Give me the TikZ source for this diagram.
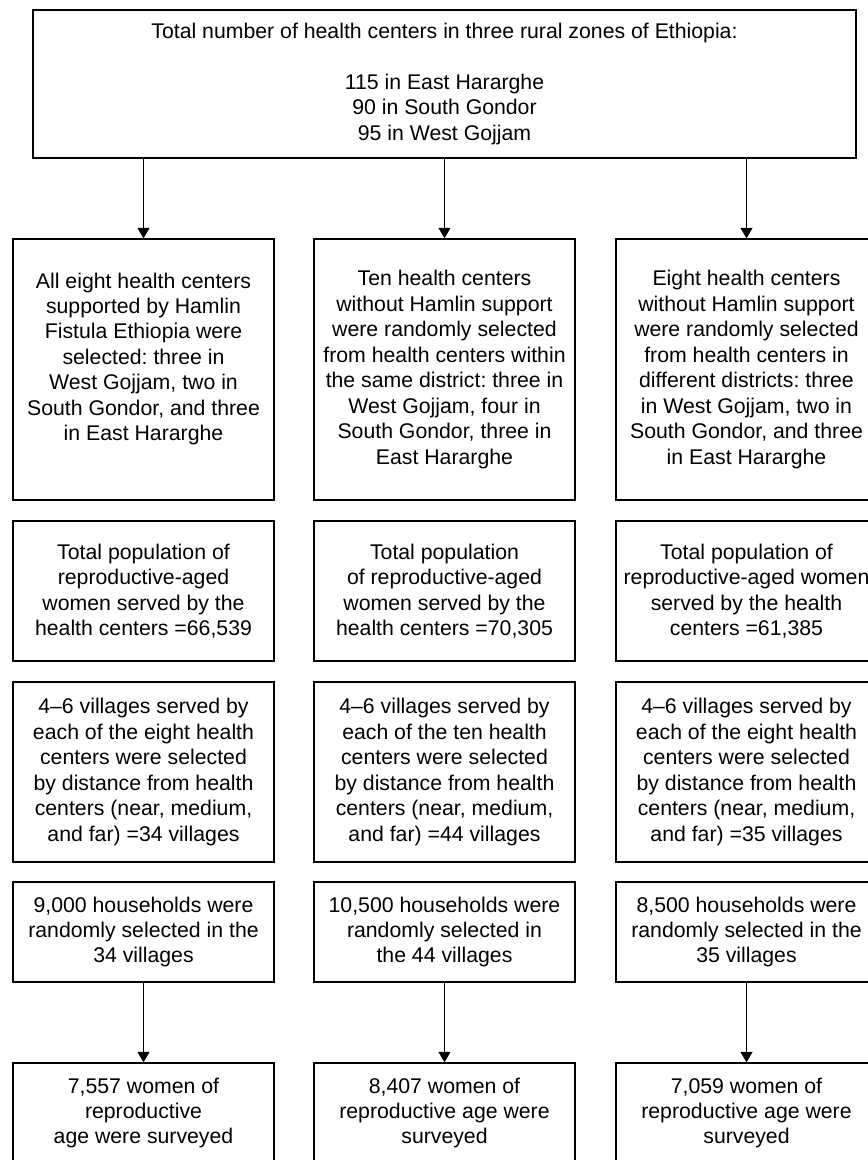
\documentclass[tikz,border=0pt]{standalone}
\usepackage{fontspec}
\setmainfont{Liberation Sans}
\usetikzlibrary{arrows.meta}
\def\pxu{0.02cm}
\frenchspacing
\begin{document}
\begin{tikzpicture}[x=0.02cm,y=-0.02cm,
  box/.style={draw=black, line width=0.75pt, inner sep=0pt, align=center,
    minimum width=261*\pxu, font=\fontsize{12.1}{14.5}\selectfont},
  flow/.style={line width=0.75pt, -{Triangle[length=6pt,width=6.8pt]}}]
\useasboundingbox (0,0) rectangle (868,1160);
\clip (0,0) rectangle (868,1160);
\fill[white] (0,0) rectangle (868,1160);

% top box
\node[box, minimum width=823*\pxu, minimum height=148*\pxu] (top) at (444.5,84)
  {Total number of health centers in three rural zones of Ethiopia:\\[14.5pt]
   115 in East Hararghe\\ 90 in South Gondor\\ 95 in West Gojjam};

% row 1
\node[box, minimum height=261*\pxu] (a1) at (143.5,369.5)
  {All eight health centers\\ supported by Hamlin\\ Fistula Ethiopia were\\ selected: three in\\ West Gojjam, two in\\ South Gondor, and three\\ in East Hararghe\\ \mbox{}};
\node[box, minimum height=261*\pxu] (b1) at (444.5,369.5)
  {Ten health centers\\ without Hamlin support\\ were randomly selected\\ from health centers within\\ the same district: three in\\ West Gojjam, four in\\ South Gondor, three in\\ East Hararghe};
\node[box, minimum height=261*\pxu] (c1) at (746.5,369.5)
  {Eight health centers\\ without Hamlin support\\ were randomly selected\\ from health centers in\\ different districts: three\\ in West Gojjam, two in\\ South Gondor, and three\\ in East Hararghe};

% row 2
\node[box, minimum height=140*\pxu] (a2) at (143.5,591)
  {Total population of\\ reproductive-aged\\ women served by the\\ health centers =66,539};
\node[box, minimum height=140*\pxu] (b2) at (444.5,591)
  {Total population\\ of reproductive-aged\\ women served by the\\ health centers =70,305};
\node[box, minimum height=140*\pxu] (c2) at (746.5,591)
  {Total population of\\ reproductive-aged women\\ served by the health\\ centers =61,385};

% row 3
\node[box, minimum height=180*\pxu] (a3) at (143.5,772)
  {4--6 villages served by\\ each of the eight health\\ centers were selected\\ by distance from health\\ centers (near, medium,\\ and far) =34 villages};
\node[box, minimum height=180*\pxu] (b3) at (444.5,772)
  {4--6 villages served by\\ each of the ten health\\ centers were selected\\ by distance from health\\ centers (near, medium,\\ and far) =44 villages};
\node[box, minimum height=180*\pxu] (c3) at (746.5,772)
  {4--6 villages served by\\ each of the eight health\\ centers were selected\\ by distance from health\\ centers (near, medium,\\ and far) =35 villages};

% row 4
\node[box, minimum height=100*\pxu] (a4) at (143.5,932)
  {9,000 households were\\ randomly selected in the\\ 34 villages};
\node[box, minimum height=100*\pxu] (b4) at (444.5,932)
  {10,500 households were\\ randomly selected in\\ the 44 villages};
\node[box, minimum height=100*\pxu] (c4) at (746.5,932)
  {8,500 households were\\ randomly selected in the\\ 35 villages};

% row 5
\node[box, minimum height=100*\pxu] (a5) at (143.5,1113)
  {7,557 women of\\ reproductive\\ age were surveyed};
\node[box, minimum height=100*\pxu] (b5) at (444.5,1113)
  {8,407 women of\\ reproductive age were\\ surveyed};
\node[box, minimum height=100*\pxu] (c5) at (746.5,1113)
  {7,059 women of\\ reproductive age were\\ surveyed};

% arrows
\draw[flow] (top.south -| a1.north) -- (a1.north);
\draw[flow] (top.south -| b1.north) -- (b1.north);
\draw[flow] (top.south -| c1.north) -- (c1.north);
\draw[flow] (a4.south) -- (a5.north);
\draw[flow] (b4.south) -- (b5.north);
\draw[flow] (c4.south) -- (c5.north);
\end{tikzpicture}
\end{document}
